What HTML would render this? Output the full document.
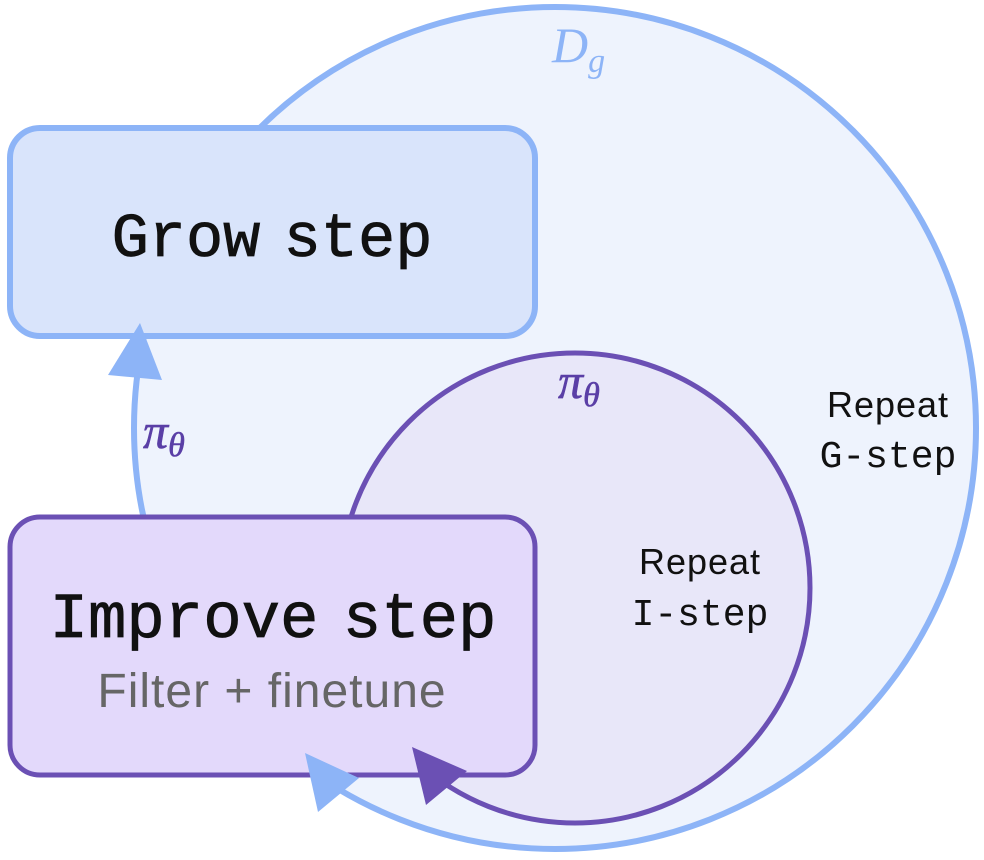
<!DOCTYPE html>
<html><head><style>
body{margin:0;background:#fff;}
svg{display:block}
.m{font-family:"Liberation Mono","DejaVu Sans Mono",monospace;}
.s{font-family:"Liberation Sans","DejaVu Sans",sans-serif;}
.r{font-family:"Liberation Serif","DejaVu Serif",serif;font-style:italic;}
</style></head><body>
<svg width="984" height="860" viewBox="0 0 984 860">
<circle cx="555" cy="428" r="421" fill="#eef3fd" stroke="#8db4f7" stroke-width="6"/>
<circle cx="575" cy="588" r="235" fill="#e8e7f9" stroke="#6b50b4" stroke-width="5"/>
<rect x="10" y="128" width="525" height="208" rx="30" fill="#d9e4fb" stroke="#8db4f7" stroke-width="6"/>
<rect x="10" y="517" width="525" height="258" rx="30" fill="#e3d9fb" stroke="#6b50b4" stroke-width="5"/>
<polygon points="140,323 108,375 162,380" fill="#8db4f7"/>
<polygon points="305,753 318,812 359,778" fill="#8db4f7"/>
<polygon points="412,747 426,805 467,771" fill="#6b50b4"/>
<text x="272" y="256" text-anchor="middle" class="m" font-size="62" word-spacing="-14" fill="#111" stroke="#111" stroke-width="0.8">Grow step</text>
<text x="273" y="637" text-anchor="middle" class="m" font-size="64" word-spacing="-14" fill="#111" stroke="#111" stroke-width="0.8">Improve step</text>
<text x="272" y="707" text-anchor="middle" class="s" font-size="48" letter-spacing="1" fill="#666">Filter + finetune</text>
<text x="552" y="62" class="r" font-size="50" fill="#8db4f7">D<tspan font-size="34" dy="10">g</tspan></text>
<text x="558" y="398" class="r" font-size="50" fill="#5a3fa6" stroke="#5a3fa6" stroke-width="0.6">π<tspan font-size="34" dy="8">θ</tspan></text>
<text x="143" y="448" class="r" font-size="50" fill="#5a3fa6" stroke="#5a3fa6" stroke-width="0.6">π<tspan font-size="34" dy="8">θ</tspan></text>
<text x="888" y="417" text-anchor="middle" class="s" font-size="36" letter-spacing="1" fill="#111">Repeat</text>
<text x="888" y="467" text-anchor="middle" class="m" font-size="38" fill="#111">G-step</text>
<text x="700" y="574" text-anchor="middle" class="s" font-size="36" letter-spacing="1" fill="#111">Repeat</text>
<text x="700" y="625" text-anchor="middle" class="m" font-size="38" fill="#111">I-step</text>
</svg>
</body></html>
